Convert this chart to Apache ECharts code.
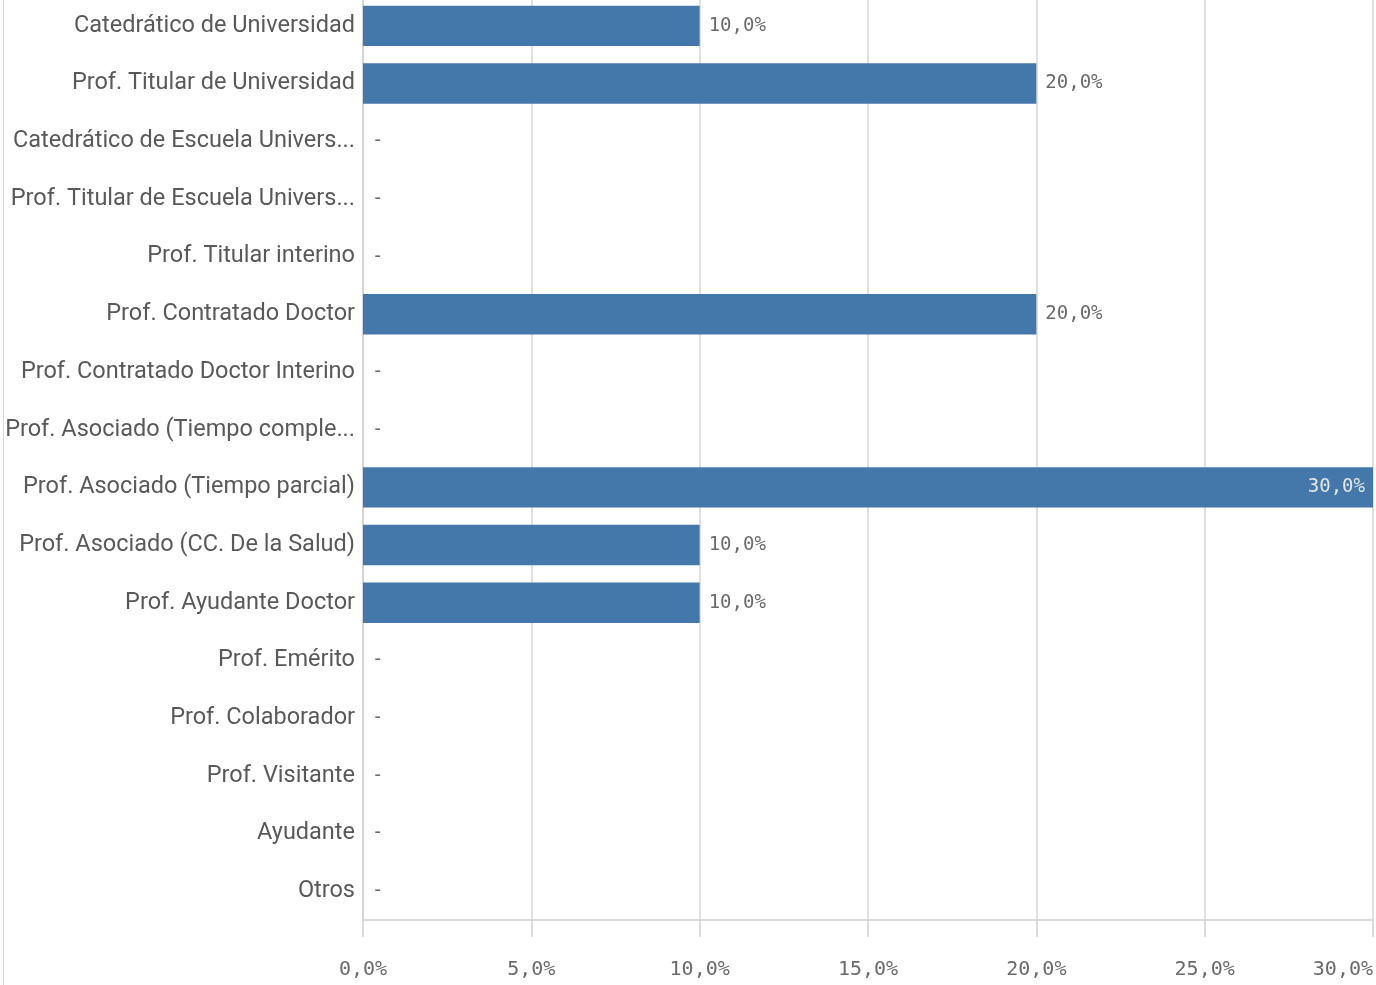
<!DOCTYPE html>
<html>
<head>
<meta charset="utf-8">
<script src="https://cdn.jsdelivr.net/npm/echarts@6/dist/echarts.min.js"></script>
<style>
html,body{margin:0;padding:0;background:#fff;overflow:hidden;}
#chart{width:1376px;height:988px;margin-top:-3px;}
</style>
</head>
<body>
<div id="chart"></div>
<script>
const categories = [
  'Catedrático de Universidad',
  'Prof. Titular de Universidad',
  'Catedrático de Escuela Univers...',
  'Prof. Titular de Escuela Univers...',
  'Prof. Titular interino',
  'Prof. Contratado Doctor',
  'Prof. Contratado Doctor Interino',
  'Prof. Asociado (Tiempo comple...',
  'Prof. Asociado (Tiempo parcial)',
  'Prof. Asociado (CC. De la Salud)',
  'Prof. Ayudante Doctor',
  'Prof. Emérito',
  'Prof. Colaborador',
  'Prof. Visitante',
  'Ayudante',
  'Otros'
];
const values = [10, 20, 0, 0, 0, 20, 0, 0, 30, 10, 10, 0, 0, 0, 0, 0];
const axisMax = 30;
const axisStep = 5;

function fmt(v) { return v.toFixed(1).replace('.', ',') + '%'; }

const monoFont = '"DejaVu Sans Mono", "Liberation Mono", monospace';

const data = values.map(v => {
  const item = { value: v };
  if (v >= axisMax) {
    item.label = { position: 'insideRight', color: '#e6e6e6', distance: 8 };
  }
  return item;
});

const chart = echarts.init(document.getElementById('chart'));
chart.setOption({
  animation: false,
  grid: { left: 363, right: 3, top: 0, bottom: 65, containLabel: false },
  graphic: [{
    type: 'line',
    shape: { x1: 3.5, y1: 0, x2: 3.5, y2: 988 },
    style: { stroke: '#d9d9d9', lineWidth: 1 }
  }],
  xAxis: {
    type: 'value',
    min: 0,
    max: axisMax,
    interval: axisStep,
    axisLine: { show: true, lineStyle: { color: '#d0d0d0', width: 1.5 } },
    axisTick: { show: true, length: 17, lineStyle: { color: '#d0d0d0', width: 1.5 } },
    splitLine: { show: true, lineStyle: { color: '#e0e0e0', width: 2 } },
    axisLabel: {
      formatter: v => fmt(v),
      color: '#6a6a6a',
      fontFamily: monoFont,
      fontSize: 20,
      margin: 40,
      alignMaxLabel: 'right'
    }
  },
  yAxis: {
    type: 'category',
    data: categories,
    inverse: true,
    axisLine: { show: true, lineStyle: { color: '#d0d0d0', width: 1.5 } },
    axisTick: { show: false },
    splitLine: { show: false },
    axisLabel: {
      color: '#595959',
      fontFamily: 'Roboto, "Noto Sans", sans-serif',
      fontSize: 23.5,
      margin: 8,
      padding: [0, 0, 7, 0]
    }
  },
  series: [{
    type: 'bar',
    data: data,
    barCategoryGap: '30%',
    itemStyle: { color: '#4477aa' },
    label: {
      show: true,
      position: 'right',
      distance: 9,
      color: '#6a6a6a',
      fontFamily: monoFont,
      fontSize: 19,
      padding: [3, 0, 0, 0],
      formatter: p => p.value === 0 ? '-' : fmt(p.value)
    }
  }]
});
</script>
</body>
</html>
